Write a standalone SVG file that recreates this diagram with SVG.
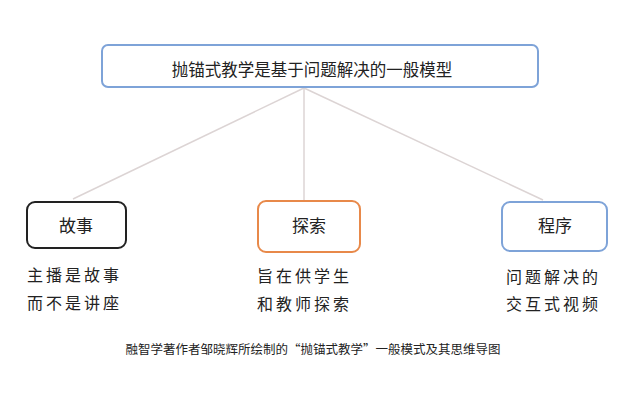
<svg xmlns="http://www.w3.org/2000/svg" width="640" height="403" viewBox="0 0 640 403">
<style>
text{font-family:"Noto Sans CJK SC","Noto Sans CJK JP",sans-serif;fill:#222;}
.box{fill:#fff;stroke-width:2;}
.t{font-size:17px;text-anchor:middle;}
.d{font-size:16px;letter-spacing:3px;}
.c{stroke:#dcd4d4;stroke-width:1.5;fill:none;}
</style>
<rect width="640" height="403" fill="#fff"/>
<g id="connectors">
<line class="c" x1="304" y1="88" x2="73" y2="199"/>
<line class="c" x1="304" y1="88" x2="304" y2="201"/>
<line class="c" x1="304" y1="88" x2="543" y2="200"/>
</g>
<g id="root">
<rect class="box" x="102" y="45" width="436" height="42" rx="6" stroke="#7ea3d8"/>
<text class="t" x="312" y="76" style="font-size:16.5px">抛锚式教学是基于问题解决的一般模型</text>
</g>
<g id="story">
<rect class="box" x="27" y="202" width="99" height="46" rx="8" stroke="#222"/>
<text class="t" x="76" y="232">故事</text>
<text class="d" x="27" y="281">主播是故事</text>
<text class="d" x="27" y="309">而不是讲座</text>
</g>
<g id="explore">
<rect class="box" x="258" y="201" width="102" height="51" rx="8" stroke="#e8894a"/>
<text class="t" x="309" y="232">探索</text>
<text class="d" x="257" y="282">旨在供学生</text>
<text class="d" x="257" y="310">和教师探索</text>
</g>
<g id="program">
<rect class="box" x="502" y="202" width="105" height="49" rx="8" stroke="#7ea3d8"/>
<text class="t" x="555" y="232">程序</text>
<text class="d" x="506" y="283">问题解决的</text>
<text class="d" x="506" y="310">交互式视频</text>
</g>
<text x="313" y="354" style="font-size:12.5px;text-anchor:middle">融智学著作者邹晓辉所绘制的“抛锚式教学”一般模式及其思维导图</text>
</svg>
